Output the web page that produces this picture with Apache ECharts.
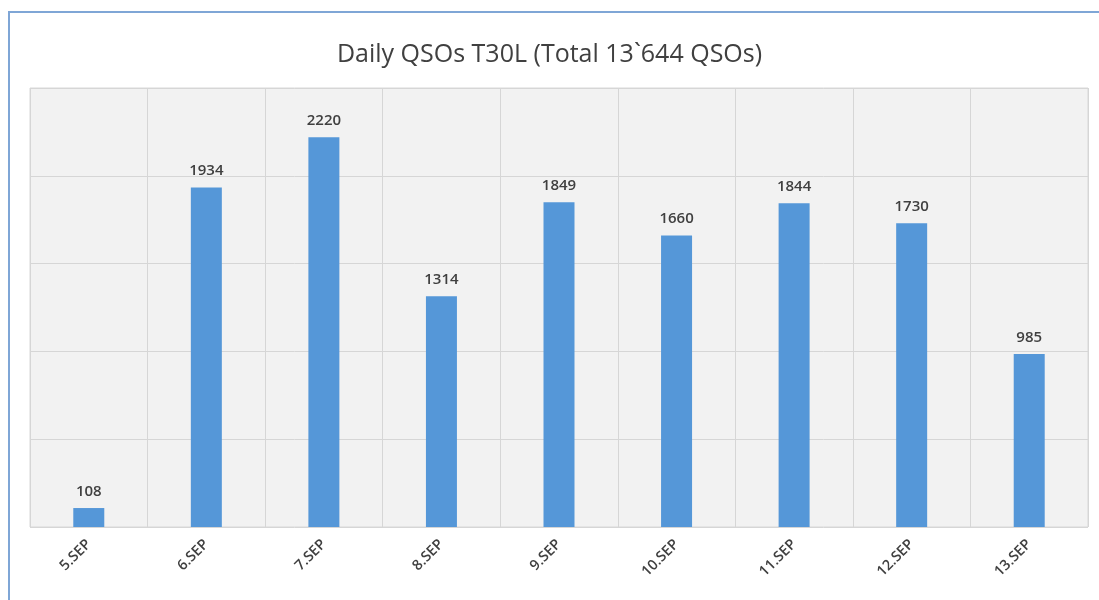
<!DOCTYPE html>
<html><head><meta charset="utf-8">
<script src="https://cdn.jsdelivr.net/npm/echarts@6/dist/echarts.min.js"></script>
<style>
html,body{margin:0;padding:0;background:#fff;}
#wrap{position:relative;width:1099px;height:600px;overflow:hidden;}
#frame{position:absolute;left:8px;top:11px;width:1200px;height:700px;border-top:2px solid #7fa6d6;border-left:2px solid #7fa6d6;box-sizing:border-box;}
#c{position:absolute;left:0;top:0;width:1099px;height:600px;}
</style></head>
<body><div id="wrap"><div id="frame"></div><div id="c"></div></div>
<script>
const categories = ['5.SEP','6.SEP','7.SEP','8.SEP','9.SEP','10.SEP','11.SEP','12.SEP','13.SEP'];
const qsos = [108,1934,2220,1314,1849,1660,1844,1730,985];
const titleText = 'Daily QSOs T30L (Total 13`644 QSOs)';

const chart = echarts.init(document.getElementById('c'), null, {renderer:'canvas'});
chart.setOption({
  animation:false,
  backgroundColor:'transparent',
  title:{text:titleText,left:'center',top:37,
    textStyle:{fontFamily:'Open Sans',fontSize:25,fontWeight:'normal',color:'#404040'}},
  grid:{left:30,right:11,top:88,bottom:73,show:true,backgroundColor:'#f2f2f2',borderColor:'#d9d9d9',borderWidth:1},
  xAxis:{type:'category',data:categories,
    axisLine:{show:false},axisTick:{show:false},
    splitLine:{show:true,lineStyle:{color:'#d6d6d6',width:1}},
    axisLabel:{rotate:45,margin:15,fontFamily:'Open Sans',fontSize:14.5,fontWeight:600,color:'#404040',interval:0}},
  yAxis:{type:'value',min:0,max:2500,interval:500,
    axisLabel:{show:false},axisLine:{show:false},axisTick:{show:false},
    splitLine:{lineStyle:{color:'#d6d6d6',width:1}}},
  series:[{type:'bar',data:qsos,barWidth:31,
    itemStyle:{color:'#5597d8'},
    label:{show:true,position:'top',distance:9,fontFamily:'Open Sans',fontSize:15,fontWeight:600,color:'#404040'}}]
});
</script></body></html>
